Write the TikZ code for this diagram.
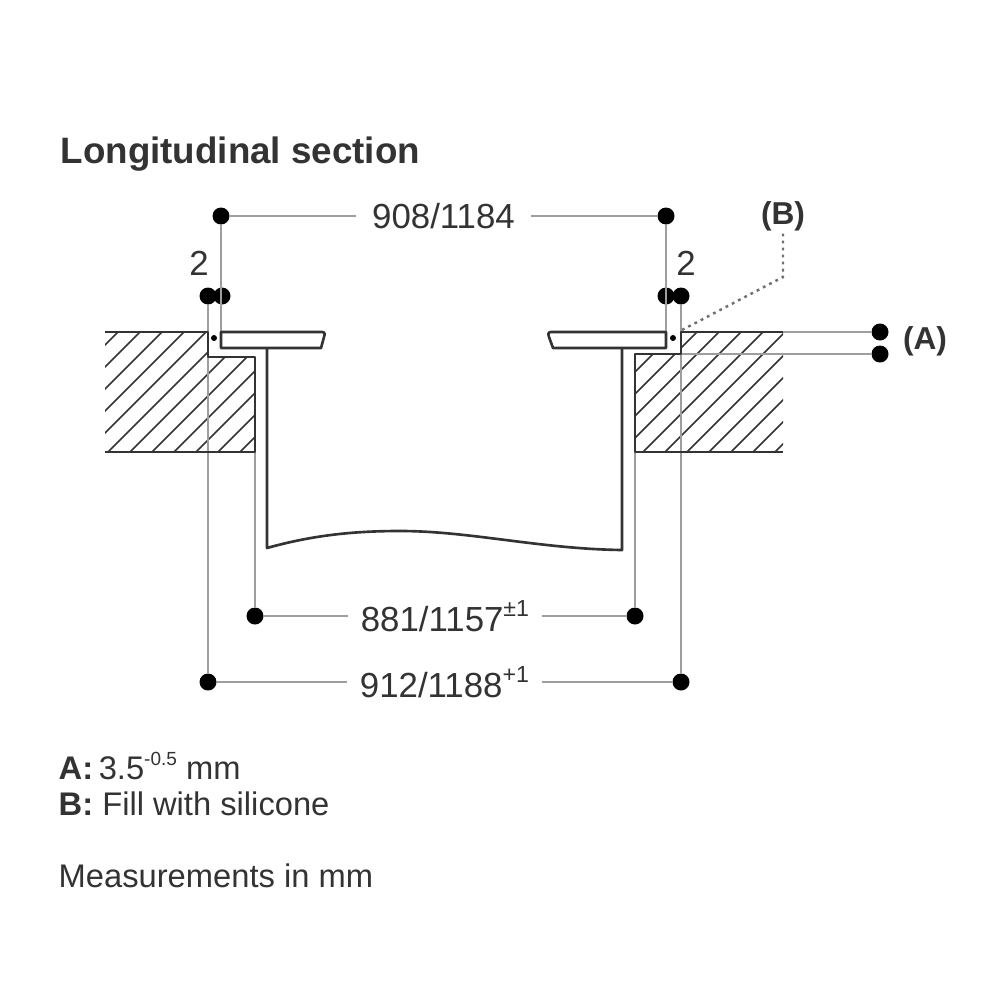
\documentclass[tikz,border=0pt]{standalone}
\usepackage{fontspec}
\setmainfont{Liberation Sans}
\definecolor{ink}{gray}{0.2}
\definecolor{dimline}{gray}{0.62}
\newcommand{\upidx}[2][5.4]{\raisebox{0.42em}{\fontsize{#1}{6}\selectfont #2}}
\begin{document}
\begin{tikzpicture}[x=0.01cm, y=-0.01cm]
\tikzstyle{dot}=[circle, fill=black, inner sep=0pt, minimum size=17*0.01cm]
\tikzstyle{smalldot}=[circle, fill=black, inner sep=0pt, minimum size=6*0.01cm]
\tikzstyle{dimln}=[draw=dimline, line width=0.6pt]
\tikzstyle{part}=[draw=ink, line width=0.75pt, line join=round]
\tikzstyle{hatch}=[draw=ink, line width=0.45pt]
\tikzstyle{num}=[inner sep=0pt, text=ink, font=\fontsize{9.9}{12}\selectfont]
\tikzstyle{lbl}=[midway, inner sep=3.6pt, fill=white, text=ink, font=\fontsize{9.9}{12}\selectfont]
\tikzstyle{txt}=[anchor=base west, inner sep=0pt, text=ink, font=\fontsize{9.3}{12}\selectfont]
\tikzstyle{key}=[inner sep=0pt, text=ink, font=\fontsize{9}{12}\selectfont\bfseries]
\useasboundingbox (0,0) rectangle (1000,1000);
% heading and notes
\node[txt, font=\fontsize{10.45}{12}\selectfont\bfseries](title) at (60,163){Longitudinal section};
\node[txt](noteA) at (58,779){\textbf{A:}\hspace{-1pt} 3.5\upidx{-0.5} mm};
\node[txt](noteB) at (58,815){\textbf{B:} Fill with silicone};
\node[txt](units) at (58,887){Measurements in mm};
% hatching
\begin{scope}
\clip (105,332) -- (208,332) -- (208,357) -- (255,357) -- (255,452) -- (105,452) -- cycle;
\foreach \s in {450,472,...,700}{\draw[hatch] (\s-500,500) -- (\s-300,300);}
\end{scope}
\begin{scope}
\clip (681,332) -- (783,332) -- (783,452) -- (635,452) -- (635,354) -- (681,354) -- cycle;
\foreach \s in {1007,1029,...,1230}{\draw[hatch] (\s-500,500) -- (\s-300,300);}
\end{scope}
% measuring points
\node[dot](t1) at (221,216){};
\node[dot](t2) at (666,216){};
\node[dot](l1) at (208,296){};
\node[dot](l2) at (222,296){};
\node[dot](r1) at (666,296){};
\node[dot](r2) at (681,296){};
\node[dot](m1) at (255,616){};
\node[dot](m2) at (635,616){};
\node[dot](b1) at (208,682){};
\node[dot](b2) at (681,682){};
\node[dot](a1) at (880,332){};
\node[dot](a2) at (880,354){};
\node[smalldot](s1) at (214,338){};
\node[smalldot](s2) at (673,338){};
\coordinate (lp) at (221,332);
\coordinate (rp) at (666,332);
\coordinate (lc) at (255,452);
\coordinate (rc) at (635,452);
\coordinate (at) at (783,332);
\coordinate (ab) at (681,354);
\coordinate (bs) at (682,330);
\coordinate (bk) at (783,277);
% measuring lines
\draw[dimln] (t1) -- (lp);
\draw[dimln] (t2) -- (rp);
\draw[dimln] (l1) -- (b1);
\draw[dimln] (r2) -- (b2);
\draw[dimln] (lc) -- (m1);
\draw[dimln] (rc) -- (m2);
\draw[dimln] (at) -- (a1);
\draw[dimln] (ab) -- (a2);
\draw[dimln] (t1) -- node[lbl, inner xsep=4.6pt]{908/1184} (t2);
\draw[dimln] (m1) -- node[lbl]{881/1157\upidx[6.6]{±1}} (m2);
\draw[dimln] (b1) -- node[lbl]{912/1188\upidx[6.6]{+1}} (b2);
\node[num](two1) at (199,263){2};
\node[num](two2) at (686,263){2};
% worktop
\draw[part] (105,332) -- (208,332) -- (208,357) -- (255,357) -- (255,452) -- (105,452);
\draw[part] (783,332) -- (681,332) -- (681,354) -- (635,354) -- (635,452) -- (783,452);
% appliance
\draw[part] (221,332) -- (322,332) .. controls (325,332) and (325,334) .. (324,337) -- (321,348) -- (221,348) -- cycle;
\draw[part] (666,332) -- (551,332) .. controls (548,332) and (548,334) .. (549,337) -- (553,348) -- (666,348) -- cycle;
\draw[part] (267,348) -- (267,548) .. controls (310,536) and (350,531) .. (400,531)
  .. controls (470,531) and (540,549) .. (622,550) -- (622,348);
\node[key](A) at (925,341){(A)};
\node[key](B) at (783,216){(B)};
\draw[draw=ink!70, line width=0.7pt, dash pattern=on 0.8pt off 1.2pt] (bs) -- (bk) -- (B);
\end{tikzpicture}
\end{document}
